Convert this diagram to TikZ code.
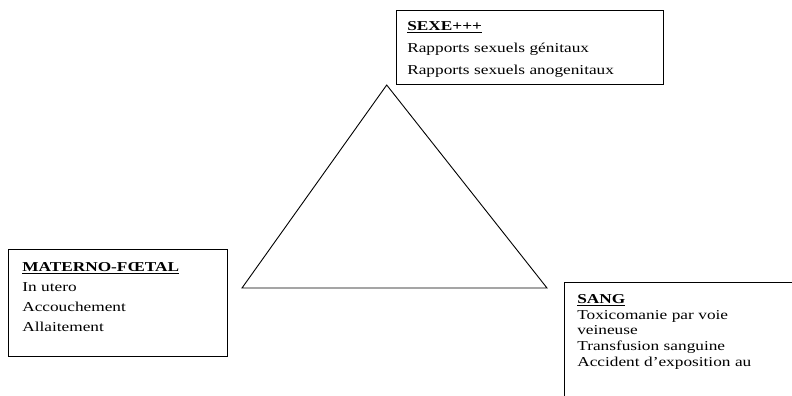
\documentclass[tikz,border=0pt]{standalone}
\usepackage{fontspec}
\setmainfont{Liberation Serif}[FakeStretch=1.27]

\begin{document}
\begin{tikzpicture}[x=1pt, y=-1pt]
\tikzset{
  route box/.style n args={3}{draw, line width=1.2pt, anchor=north west, align=left,
    inner xsep=#1, inner ysep=4pt, text width=#2, font=\fontsize{13.6}{#3}\selectfont}
}
\useasboundingbox (0,0) rectangle (792,396);
\clip (0,0) rectangle (792,396);

\draw[line width=0.9pt] (386.7,85) -- (242,288) -- (547,288) -- cycle;

\node[route box={10.7pt}{245.6pt}{22pt}] (sexe) at (396,10)
  {\rule{0pt}{16pt}\textbf{\underline{SEXE+++}}\\
   Rapports sexuels génitaux\\
   Rapports sexuels anogenitaux\rule[-6pt]{0pt}{0pt}};
\node[route box={13.7pt}{191.6pt}{20pt}] (materno) at (8,249)
  {\rule{0pt}{18pt}\textbf{\underline{MATERNO-FŒTAL}}\\
   In utero\\
   Accouchement\\
   Allaitement\rule[-21pt]{0pt}{0pt}};
\node[route box={12.7pt}{260pt}{15.8pt}] (sang) at (564,282)
  {\rule{0pt}{16.7pt}\textbf{\underline{SANG}}\\
   Toxicomanie par voie\\
   veineuse\\
   Transfusion sanguine\\
   Accident d’exposition au\rule[-40pt]{0pt}{0pt}};
\end{tikzpicture}
\end{document}
